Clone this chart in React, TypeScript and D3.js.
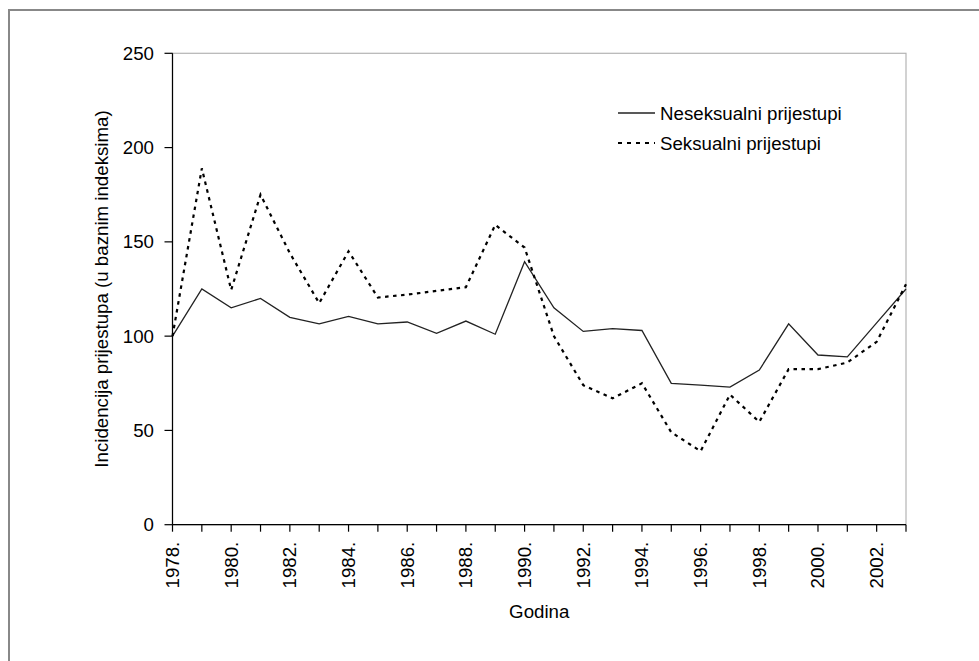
import React from "react";
import * as d3 from "d3";

const years: number[] = [1978, 1979, 1980, 1981, 1982, 1983, 1984, 1985, 1986, 1987, 1988, 1989, 1990, 1991, 1992, 1993, 1994, 1995, 1996, 1997, 1998, 1999, 2000, 2001, 2002, 2003];
const nonSexual: number[] = [100, 125, 115, 120, 110, 106.5, 110.5, 106.5, 107.5, 101.5, 108, 101, 139.5, 115, 102.5, 104, 103, 75, 74, 73, 82, 106.5, 90, 89, 107, 125];
const sexual: number[] = [100, 189, 124.5, 175, 144, 117.5, 145, 120.5, 122, 124, 126, 159, 147, 100, 74, 67, 75, 49, 39, 69, 54.5, 82.5, 82.5, 86, 97, 127.5];
const yTicks: number[] = [0, 50, 100, 150, 200, 250];
const xLabelYears: number[] = [1978, 1980, 1982, 1984, 1986, 1988, 1990, 1992, 1994, 1996, 1998, 2000, 2002];
const seriesNames: string[] = ["Neseksualni prijestupi", "Seksualni prijestupi"];
const xTitle = "Godina";
const yTitle = "Incidencija prijestupa (u baznim indeksima)";

const FONT = "'Liberation Sans', Arial, sans-serif";
const FS = 18.7;

export default function App() {
  const left = 172.5, right = 906, top = 53.3, bottom = 524.7;
  const x = d3.scaleLinear().domain([1978, 2003]).range([left, right]);
  const y = d3.scaleLinear().domain([0, 250]).range([bottom, top]);
  const line = d3.line<number>().x((_, i) => x(years[i])).y((d) => y(d));

  return (
    <svg width={979} height={661} style={{ position: "absolute", left: 0, top: 0, background: "#fff" }} fontFamily={FONT}>
      <rect x={0} y={0} width={979} height={661} fill="#fff" />
      {/* outer frame (cropped on right/bottom) */}
      <rect x={9} y={10} width={1100} height={800} fill="none" stroke="#888" strokeWidth={2} />
      {/* plot area frame */}
      <rect x={left} y={top} width={right - left} height={bottom - top} fill="none" stroke="#b4b4b4" strokeWidth={1.2} />
      {/* y axis */}
      <line x1={left} x2={left} y1={top} y2={bottom} stroke="#000" strokeWidth={1.2} />
      {yTicks.map((t) => (
        <g key={t}>
          <line x1={left - 8} x2={left} y1={y(t)} y2={y(t)} stroke="#000" strokeWidth={1.2} />
          <text x={154} y={y(t)} textAnchor="end" dominantBaseline="central" fontSize={FS} fill="#000">{t}</text>
        </g>
      ))}
      {/* x axis */}
      <line x1={left} x2={right} y1={bottom} y2={bottom} stroke="#000" strokeWidth={1.2} />
      {years.map((yr) => (
        <line key={yr} x1={x(yr)} x2={x(yr)} y1={bottom} y2={bottom + 7} stroke="#000" strokeWidth={1.2} />
      ))}
      {xLabelYears.map((yr) => (
        <text key={yr} transform={`translate(${x(yr)},${bottom + 17}) rotate(-90)`} textAnchor="end" dominantBaseline="central" fontSize={FS} fill="#000">{yr + "."}</text>
      ))}
      <text x={(left + right) / 2} y={618} textAnchor="middle" fontSize={FS} fill="#000">{xTitle}</text>
      <text transform={`translate(101,${(top + bottom) / 2}) rotate(-90)`} textAnchor="middle" dominantBaseline="central" fontSize={FS} fill="#000">{yTitle}</text>
      {/* series */}
      <path d={line(nonSexual) || ""} fill="none" stroke="#222" strokeWidth={1.3} />
      <path d={line(sexual) || ""} fill="none" stroke="#000" strokeWidth={2.2} strokeDasharray="3.5,4.5" />
      {/* legend */}
      <line x1={618} x2={655} y1={113} y2={113} stroke="#222" strokeWidth={1.3} />
      <text x={660} y={113} dominantBaseline="central" fontSize={FS} fill="#000">{seriesNames[0]}</text>
      <line x1={618} x2={655} y1={143} y2={143} stroke="#000" strokeWidth={2} strokeDasharray="4,5" />
      <text x={660} y={143} dominantBaseline="central" fontSize={FS} fill="#000">{seriesNames[1]}</text>
    </svg>
  );
}
